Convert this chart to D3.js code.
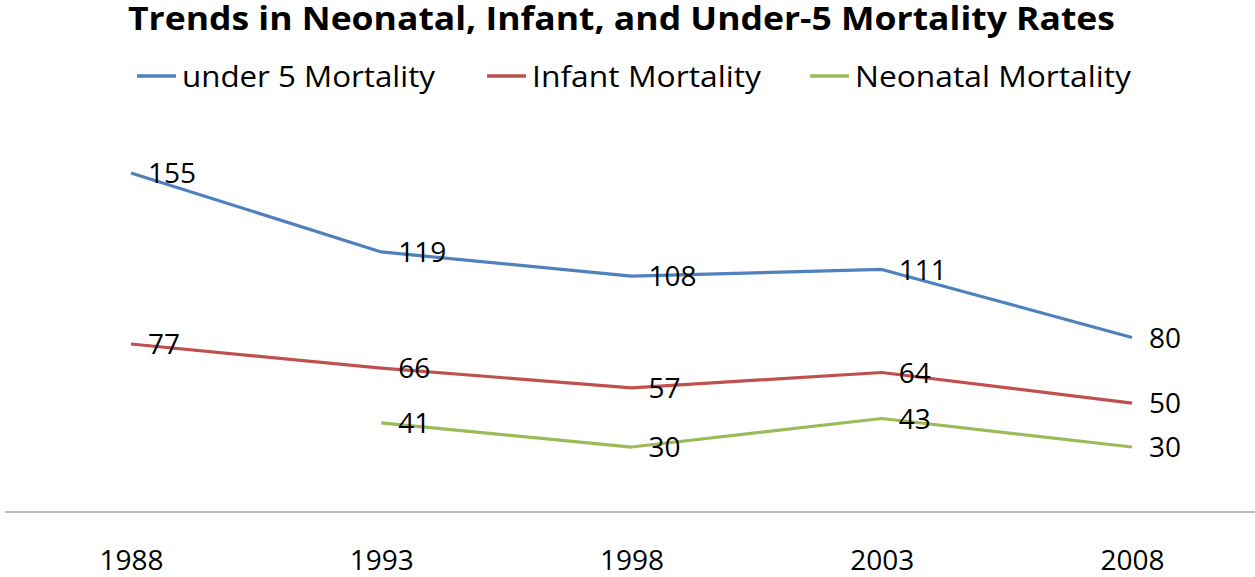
<!DOCTYPE html>
<html>
<head>
<meta charset="utf-8">
<script src="https://cdn.jsdelivr.net/npm/d3@7"></script>
<style>
  body { margin: 0; background: #fff; }
  text { font-family: "Open Sans", "DejaVu Sans", sans-serif; fill: #000; }
</style>
</head>
<body>
<svg id="chart" width="1255" height="577"></svg>
<script>
// chart data
var years = ["1988", "1993", "1998", "2003", "2008"];
var under5 = [155, 119, 108, 111, 80];
var infant = [77, 66, 57, 64, 50];
var neonatal = [null, 41, 30, 43, 30];
var seriesNames = ["under 5 Mortality", "Infant Mortality", "Neonatal Mortality"];
var seriesColors = ["#4F81BD", "#C0504D", "#9BBB59"];
var chartTitle = "Trends in Neonatal, Infant, and Under-5 Mortality Rates";

var svg = d3.select("#chart");

var series = [under5, infant, neonatal].map(function (vals, i) {
    return {
        name: seriesNames[i],
        color: seriesColors[i],
        points: years.map(function (y, j) { return { year: y, value: vals[j] }; })
    };
});

var xScale = d3.scalePoint().domain(years).range([131, 1132]);
var yScale = d3.scaleLinear().domain([0, 180]).range([512.8, 118.2]);

// title
svg.append("text")
    .attr("x", 621.5)
    .attr("y", 30)
    .attr("text-anchor", "middle")
    .attr("font-size", 32)
    .attr("font-weight", "bold")
    .attr("textLength", 987)
    .attr("lengthAdjust", "spacingAndGlyphs")
    .text(chartTitle);

// legend
var legendPos = [
    { lx: 137, tx: 182, tw: 253 },
    { lx: 487, tx: 532, tw: 229 },
    { lx: 810, tx: 855, tw: 276 }
];
var legend = svg.append("g").attr("class", "legend");
series.forEach(function (s, i) {
    var p = legendPos[i];
    legend.append("line")
        .attr("x1", p.lx).attr("x2", p.lx + 39)
        .attr("y1", 76).attr("y2", 76)
        .attr("stroke", s.color)
        .attr("stroke-width", 3.5);
    legend.append("text")
        .attr("x", p.tx)
        .attr("y", 87)
        .attr("font-size", 29)
        .attr("textLength", p.tw)
        .attr("lengthAdjust", "spacingAndGlyphs")
        .text(s.name);
});

// x axis
var xAxis = d3.axisBottom(xScale).tickSize(0).tickPadding(0);
var gx = svg.append("g")
    .attr("transform", "translate(0,512)")
    .call(xAxis);
gx.select(".domain").remove();
gx.selectAll("text")
    .attr("font-size", 28)
    .attr("font-family", "Open Sans, DejaVu Sans, sans-serif")
    .attr("fill", "#000")
    .attr("dy", null)
    .attr("y", 58);

svg.append("line")
    .attr("x1", 5).attr("x2", 1255)
    .attr("y1", 512).attr("y2", 512)
    .attr("stroke", "#A6A6A6")
    .attr("stroke-width", 1.5);

// lines
var line = d3.line()
    .defined(function (d) { return d.value !== null; })
    .x(function (d) { return xScale(d.year); })
    .y(function (d) { return yScale(d.value); });

series.forEach(function (s) {
    svg.append("path")
        .datum(s.points)
        .attr("fill", "none")
        .attr("stroke", s.color)
        .attr("stroke-width", 3.2)
        .attr("stroke-linejoin", "round")
        .attr("d", line);
});

// data labels
series.forEach(function (s) {
    svg.append("g").selectAll("text")
        .data(s.points.filter(function (d) { return d.value !== null; }))
        .enter()
        .append("text")
        .attr("x", function (d) { return xScale(d.year) + 17; })
        .attr("y", function (d) { return yScale(d.value); })
        .attr("dy", "0.36em")
        .attr("font-size", 28)
        .text(function (d) { return d.value; });
});
</script>
</body>
</html>
